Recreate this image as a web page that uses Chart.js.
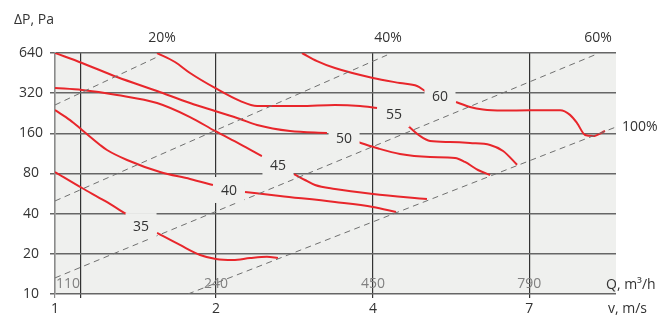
<!DOCTYPE html>
<html><head><meta charset="utf-8">
<script src="https://cdn.jsdelivr.net/npm/chart.js@4"></script>
<style>html,body{margin:0;padding:0;background:#fff}</style>
</head><body>
<canvas id="c" width="670" height="316" style="display:block;width:670px;height:316px"></canvas>
<script>
// ---- axis definitions ----
const vTicks = [1, 2, 4, 7];                 // v, m/s labels
const vTickPos = [0, 1.025, 2.025, 3.02];    // positions on the (stylized) x axis
const qTicks = [110, 240, 450, 790];         // Q, m3/h labels
const qTickPos = [0.166, 1.025, 2.025, 3.02];
const pTicks = [10, 20, 40, 80, 160, 320, 640]; // ΔP, Pa
const xMax = 3.573;

// ---- fan curves (x position, ΔP Pa) ----
const c35a = [[0,82.1],[0.172,62.3],[0.318,49.8],[0.452,39.8]];
const c35b = [[0.65,28.7],[0.796,23.3],[0.924,19.6],[1.025,18.3],[1.134,18.0],[1.242,18.6],[1.35,19.0],[1.42,18.6]];
const c40a = [[0,239],[0.096,201],[0.172,169.5],[0.287,131],[0.331,120],[0.459,101],[0.669,82.1],[0.86,72.8],[1.006,65.6]];
const c40b = [[1.21,58.2],[1.433,54.3],[1.783,48.9],[2.025,44.9],[2.172,41.2]];
const c45a = [[0,350],[0.172,338],[0.395,310],[0.65,270],[0.86,212],[1.019,166.6],[1.178,133],[1.318,108]];
const c45b = [[1.522,79.3],[1.592,71.5],[1.656,65.6],[1.783,61.2],[2.025,56.2],[2.369,51.5]];
const c50a = [[0,640],[0.172,539],[0.395,423],[0.65,332],[0.86,270],[1.019,235],[1.178,205],[1.287,185],[1.497,166.6],[1.732,161]];
const c50b = [[1.93,137.8],[2.06,123],[2.197,112],[2.389,106.4],[2.548,104.5],[2.611,97.6],[2.694,85],[2.771,78]];
const c55a = [[0.65,640],[0.764,548],[0.86,453],[1.019,350],[1.178,280],[1.287,256.5],[1.561,256.5],[1.783,261],[1.943,256.5],[2.051,248]];
const c55b = [[2.236,188],[2.325,152.8],[2.389,140],[2.516,137.8],[2.643,135.4],[2.771,131],[2.854,118],[2.943,93]];
const c60a = [[1.573,640],[1.669,557],[1.783,494],[2.025,416],[2.197,381],[2.306,362],[2.357,332]];
const c60b = [[2.554,275],[2.643,252],[2.726,241],[2.854,237],[3.025,238],[3.217,238],[3.28,220],[3.325,191],[3.376,155.5],[3.427,152.8],[3.503,166.6]];

// ---- curve labels ----
const curveLabels = ['35','40','45','50','55','60'];
const curveLabelX = [0.548, 1.108, 1.42, 1.841, 2.159, 2.452];
const curveLabelP = [32.3, 60.2, 92.7, 147.6, 223, 305];

// ---- system (dashed) lines ----
const lineA = [[0,261],[0.65,597]];
const lineB = [[0,49.8],[2.115,618]];
const lineC = [[0,13.2],[3.452,629]];
const lineD = [[0.847,10],[3.573,178.5]];
const pctLabels = ['20%','40%','60%','100%'];

const toXY = a => a.map(p => ({x:p[0], y:p[1]}));
const RED = '#e8262b';
const FONT = '14px "Open Sans"';
const TXT = '#333333';

const curveSet = (d) => ({data:toXY(d), borderColor:RED, borderWidth:2, pointRadius:0, cubicInterpolationMode:'monotone', fill:false});
const dashSet = (d) => ({data:toXY(d), borderColor:'#707070', borderWidth:1, borderDash:[6,4.5], pointRadius:0, fill:false});

const bgPlugin = {
  id:'bg',
  beforeDraw(chart){
    const {ctx, chartArea:a} = chart;
    ctx.save();
    ctx.fillStyle = '#eff0ee';
    ctx.fillRect(a.left, a.top, a.right - a.left, a.bottom - a.top);
    ctx.restore();
  }
};

const textPlugin = {
  id:'texts',
  afterDatasetsDraw(chart){
    const {ctx, chartArea:a, scales:{x, y}} = chart;
    ctx.save();
    ctx.font = FONT;
    ctx.textAlign = 'center';
    ctx.textBaseline = 'middle';
    curveLabels.forEach((t,i) => {
      const px = x.getPixelForValue(curveLabelX[i]);
      const py = y.getPixelForValue(curveLabelP[i]);
      ctx.fillStyle = '#eff0ee';
      ctx.fillRect(px - 15.5, py - 13, 31, 26);
      ctx.fillStyle = TXT;
      ctx.fillText(t, px, py + 1);
    });
    ctx.restore();
  },
  afterDraw(chart){
    const {ctx, chartArea:a, scales:{x, y}} = chart;
    ctx.save();
    ctx.font = FONT;
    ctx.textBaseline = 'middle';
    ctx.fillStyle = TXT;
    // y tick labels
    ctx.textAlign = 'center';
    pTicks.forEach(v => ctx.fillText(String(v), a.left - 24, y.getPixelForValue(v)));
    // x tick labels (v)
    vTicks.forEach((v,i) => ctx.fillText(String(v), x.getPixelForValue(vTickPos[i]), a.bottom + 15));
    // Q labels inside plot
    ctx.fillStyle = '#808080';
    qTicks.forEach((q,i) => {
      const px = x.getPixelForValue(qTickPos[i]);
      if (i === 0) { ctx.textAlign = 'right'; ctx.fillText(String(q), px - 1, a.bottom - 10); }
      else { ctx.textAlign = 'center'; ctx.fillText(String(q), px, a.bottom - 10); }
    });
    ctx.fillStyle = TXT;
    // axis titles
    ctx.textAlign = 'left';
    ctx.fillText('ΔP, Pa', 14, 20);
    ctx.fillText('Q, m³/h', a.right - 10, a.bottom - 9);
    ctx.fillText('v, m/s', a.right - 8, a.bottom + 15);
    // percent labels at the ends of the dashed lines
    ctx.textAlign = 'center';
    [lineA, lineB, lineC].forEach((l,i) => {
      ctx.fillText(pctLabels[i], x.getPixelForValue(l[1][0]) + (i===0?5:1), a.top - 15);
    });
    ctx.textAlign = 'left';
    ctx.fillText(pctLabels[3], x.getPixelForValue(lineD[1][0]) + 6, y.getPixelForValue(lineD[1][1]));
    ctx.restore();
  }
};

new Chart(document.getElementById('c'), {
  type:'line',
  data:{datasets:[
    dashSet(lineA), dashSet(lineB), dashSet(lineC), dashSet(lineD),
    curveSet(c35a), curveSet(c35b), curveSet(c40a), curveSet(c40b),
    curveSet(c45a), curveSet(c45b), curveSet(c50a), curveSet(c50b),
    curveSet(c55a), curveSet(c55b), curveSet(c60a), curveSet(c60b)
  ]},
  options:{
    responsive:false, animation:false, devicePixelRatio:1,
    layout:{padding:{left:55, top:53, right:54, bottom:22}},
    plugins:{legend:{display:false}, tooltip:{enabled:false}},
    scales:{
      x:{type:'linear', min:0, max:xMax,
         afterBuildTicks:s => { s.ticks = [0].concat(qTickPos).map(v => ({value:v})); },
         afterFit:s => { s.height = 0; },
         ticks:{display:false},
         grid:{color:c => c.tick && c.tick.value === 0 ? '#8a8a8a' : '#333333', lineWidth:1.2, drawTicks:true, tickLength:4},
         border:{display:false}},
      y:{type:'logarithmic', min:10, max:640,
         afterBuildTicks:s => { s.ticks = pTicks.map(v => ({value:v})); },
         afterFit:s => { s.width = 0; },
         ticks:{display:false},
         grid:{color:'#666666', lineWidth:1.5, drawTicks:true, tickLength:5},
         border:{display:true, color:'#8a8a8a', width:1.5}}
    }
  },
  plugins:[bgPlugin, textPlugin]
});
</script>
</body></html>
